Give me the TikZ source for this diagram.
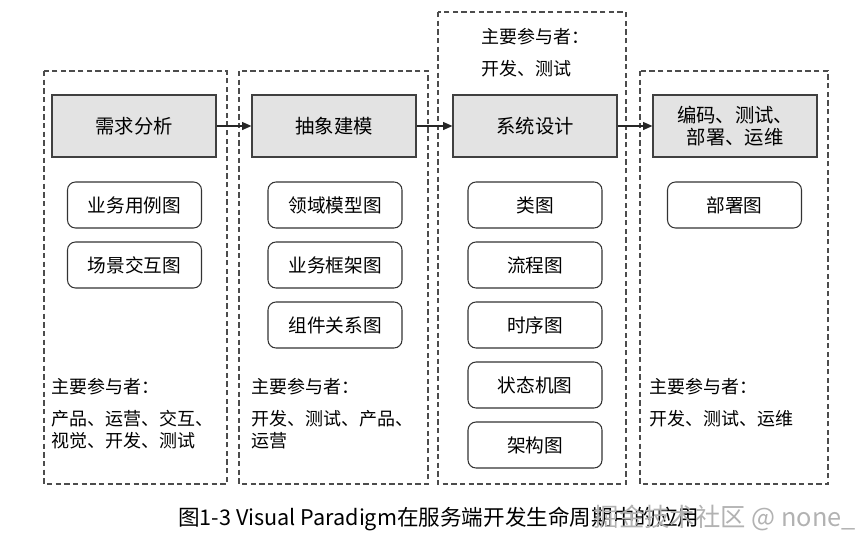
\documentclass[tikz,border=0pt]{standalone}
\usepackage{fontspec}
\setmainfont{Noto Sans CJK SC}
\usetikzlibrary{arrows.meta}
\begin{document}
\begin{tikzpicture}[x=0.75pt,y=-0.75pt,
  group/.style={draw=black!70,dash pattern=on 4pt off 2.5pt,line width=0.8pt},
  phase/.style={draw=black!75,fill=black!11,line width=0.9pt,minimum width=123pt,minimum height=46.5pt,inner sep=0pt,font=\fontsize{14.5}{16.5}\selectfont,align=center},
  diag/.style={draw=black!80,rounded corners=6pt,line width=0.8pt,minimum width=100.5pt,minimum height=34.5pt,inner sep=0pt,font=\fontsize{14}{16}\selectfont},
  note/.style={anchor=north west,inner sep=0pt,align=left,font=\fontsize{13.5}{16.5}\selectfont},
  flow/.style={-{Triangle[length=7pt,width=6pt]},line width=0.9pt,draw=black!85}
]
\useasboundingbox (0,0) rectangle (868,546);
% dashed groups
\draw[group] (44,71) rectangle (227,484);
\draw[group] (239,71) rectangle (428,484);
\draw[group] (438,12) rectangle (626,484);
\draw[group] (640,71) rectangle (828,484);
% phase boxes
\node[phase] (p1) at (134,126) {需求分析};
\node[phase] (p2) at (334,126) {抽象建模};
\node[phase] (p3) at (535,126) {系统设计};
\node[phase] (p4) at (735,126) {编码、测试、\\部署、运维};
\draw[flow] (p1) -- (p2);
\draw[flow] (p2) -- (p3);
\draw[flow] (p3) -- (p4);
% diagrams column 1
\node[diag] (a1) at (134.5,205) {业务用例图};
\node[diag] (a2) at (134.5,265) {场景交互图};
% column 2
\node[diag] (b1) at (335,205) {领域模型图};
\node[diag] (b2) at (335,265) {业务框架图};
\node[diag] (b3) at (335,325) {组件关系图};
% column 3
\node[diag] (c1) at (535,205) {类图};
\node[diag] (c2) at (535,265) {流程图};
\node[diag] (c3) at (535,325) {时序图};
\node[diag] (c4) at (535,385) {状态机图};
\node[diag] (c5) at (535,445) {架构图};
% column 4
\node[diag] (d1) at (734.5,205) {部署图};
% participants
\node[note] (n1) at (51,378) {主要参与者：};
\node[note] (n1b) at (51,410) {产品、运营、交互、\\视觉、开发、测试};
\node[note] (n2) at (251,378) {主要参与者：};
\node[note] (n2b) at (251,410) {开发、测试、产品、\\运营};
\node[note] (n3) at (481,28) {主要参与者：};
\node[note] (n3b) at (481,60) {开发、测试};
\node[note] (n4) at (649,378) {主要参与者：};
\node[note] (n4b) at (649,410) {开发、测试、运维};
% caption
\node[anchor=west,inner sep=0pt,font=\fontsize{16.2}{18}\selectfont] (cap) at (178,519) {图1-3 Visual Paradigm在服务端开发生命周期中的应用};
\node[anchor=east,inner sep=0pt,text=black!30,font=\fontsize{19}{21}\selectfont] (wm) at (856,518) {掘金技术社区 @ none\_};
\end{tikzpicture}
\end{document}
